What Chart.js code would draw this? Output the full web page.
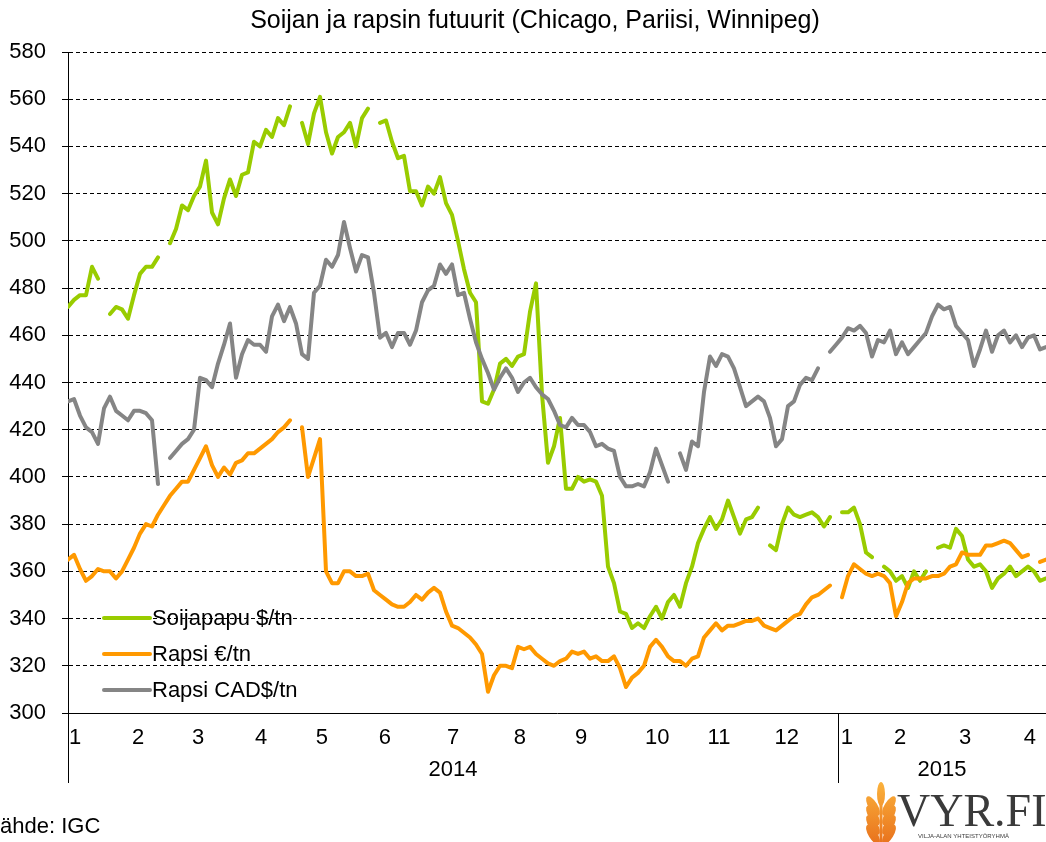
<!DOCTYPE html>
<html>
<head>
<meta charset="utf-8">
<title>Soijan ja rapsin futuurit</title>
<script src="https://cdn.jsdelivr.net/npm/chart.js@4.4.1/dist/chart.umd.min.js"></script>
<style>
  body { margin: 0; background: #fff; }
  canvas { display: block; }
</style>
</head>
<body>
<canvas id="chart" width="1046" height="842"></canvas>
<script>
// Sampled futures prices, Jan 2014 - Apr 2015 (one value every ~2 trading days, null = no quote)
const soija = [
  472, 475, 477, 477, 489, 484, null, 469, 472, 471,
  467, 477, 486, 489, 489, 493, null, 499, 505, 515,
  513, 519, 523, 534, 512, 507, 518, 526, 519, 528,
  529, 542, 540, 547, 544, 552, 549, 557, null, 550,
  541, 554, 561, 546, 537, 544, 546, 550, 540, 552,
  556, null, 550, 551, 542, 535, 536, 521, 521, 515,
  523, 520, 527, 516, 511, 500, 488, 478, 474, 432,
  431, 437, 448, 450, 447, 451, 452, 470, 482, 435,
  406, 413, 425, 395, 395, 400, 398, 399, 398, 392,
  362, 355, 343, 342, 336, 338, 336, 341, 345, 340,
  347, 350, 345, 355, 362, 372, 378, 383, 378, 382,
  390, 383, 376, 382, 383, 387, null, 371, 369, 380,
  387, 384, 383, 384, 385, 383, 379, 383, null, 385,
  385, 387, 380, 368, 366, null, 362, 360, 356, 358,
  353, 360, 356, 360, null, 370, 371, 370, 378, 375,
  365, 362, 363, 360, 353, 357, 359, 362, 358, 360,
  362, 360, 356, 357
];

const rapsiEur = [
  365, 367, 361, 356, 358, 361, 360, 360, 357, 360,
  365, 370, 376, 380, 379, 384, 388, 392, 395, 398,
  398, 403, 408, 413, 405, 400, 404, 401, 406, 407,
  410, 410, 412, 414, 416, 419, 421, 424, null, 421,
  400, 408, 416, 360, 355, 355, 360, 360, 358, 358,
  359, 352, 350, 348, 346, 345, 345, 347, 350, 348,
  351, 353, 351, 343, 337, 336, 334, 332, 329, 325,
  309, 316, 320, 320, 319, 328, 327, 328, 325, 323,
  321, 320, 322, 323, 326, 325, 326, 323, 324, 322,
  322, 324, 319, 311, 315, 317, 320, 328, 331, 328,
  324, 322, 322, 320, 323, 324, 332, 335, 338, 335,
  337, 337, 338, 339, 339, 340, 337, 336, 335, 337,
  339, 341, 342, 346, 349, 350, 352, 354, null, 349,
  358, 363, 361, 359, 358, 359, 358, 355, 341, 347,
  355, 357, 357, 357, 358, 358, 359, 362, 363, 368,
  367, 367, 367, 371, 371, 372, 373, 372, 369, 366,
  367, null, 364, 365
];

const rapsiCad = [
  432, 433, 426, 421, 419, 414, 429, 434, 428, 426,
  424, 428, 428, 427, 424, 397, null, 408, 411, 414,
  416, 420, 442, 441, 438, 448, 456, 465, 442, 452,
  458, 456, 456, 453, 468, 473, 466, 472, 465, 452,
  450, 478, 481, 492, 489, 494, 508, 497, 487, 494,
  493, 478, 459, 461, 455, 461, 461, 456, 462, 474,
  479, 481, 490, 486, 490, 477, 478, 467, 457, 450,
  444, 437, 442, 446, 442, 436, 440, 442, 438, 435,
  433, 428, 422, 421, 425, 422, 422, 419, 413, 414,
  412, 411, 400, 396, 396, 397, 396, 402, 412, 405,
  398, null, 410, 403, 415, 413, 436, 451, 447, 452,
  451, 446, 438, 430, 432, 434, 432, 425, 413, 416,
  430, 432, 439, 442, 441, 446, null, 453, 456, 459,
  463, 462, 464, 461, 451, 458, 457, 462, 452, 457,
  452, 455, 458, 461, 468, 473, 471, 472, 464, 461,
  458, 447, 454, 462, 453, 460, 462, 457, 460, 455,
  459, 460, 454, 455
];

// x axis: month labels (position in sample index) and years
const monthTicks = [1.2, 11.7, 21.7, 32.2, 42.3, 52.8, 64.2, 75.3, 85.5, 98.2, 108.5, 119.8, 129.8, 138.7, 149.5, 160.3];
const monthLabels = ["1", "2", "3", "4", "5", "6", "7", "8", "9", "10", "11", "12", "1", "2", "3", "4"];
const years = ["2014", "2015"];
const yearStarts = [0, 128.3];

const seriesNames = ["Soijapapu $/tn", "Rapsi €/tn", "Rapsi CAD$/tn"];
const seriesColors = ["#99cc00", "#ff9900", "#858585"];

const FONT = "'Liberation Sans', Arial, sans-serif";
const toPoints = (arr) => arr.map((v, i) => ({ x: i, y: v }));

const extras = {
  id: "extras",
  afterDraw(chart) {
    const { ctx, chartArea, scales } = chart;
    const x = scales.x;
    ctx.save();

    // title
    ctx.fillStyle = "#000";
    ctx.font = "25px " + FONT;
    ctx.textAlign = "center";
    ctx.textBaseline = "middle";
    ctx.fillText("Soijan ja rapsin futuurit (Chicago, Pariisi, Winnipeg)", 535, 21);

    // year separators + labels
    ctx.strokeStyle = "#000";
    ctx.lineWidth = 1;
    const lineEnd = 783;
    yearStarts.forEach((v) => {
      const px = Math.round(x.getPixelForValue(v)) + 0.5;
      ctx.beginPath();
      ctx.moveTo(px, chartArea.bottom);
      ctx.lineTo(px, lineEnd);
      ctx.stroke();
    });
    ctx.font = "22px " + FONT;
    years.forEach((y, i) => {
      const a = x.getPixelForValue(yearStarts[i]);
      const b = i + 1 < yearStarts.length ? x.getPixelForValue(yearStarts[i + 1]) : chartArea.right;
      ctx.fillText(y, (a + b) / 2, 770);
    });

    // legend inside plot
    ctx.textAlign = "left";
    const rows = [618, 654, 690];
    seriesNames.forEach((name, i) => {
      ctx.strokeStyle = seriesColors[i];
      ctx.lineWidth = 4;
      ctx.lineCap = "round";
      ctx.beginPath();
      ctx.moveTo(104, rows[i]);
      ctx.lineTo(150, rows[i]);
      ctx.stroke();
      ctx.fillStyle = "#000";
      ctx.fillText(name, 152, rows[i] + 1);
    });

    // source
    ctx.fillText("ähde: IGC", 0, 827);

    // logo: wheat ear
    const grad = ctx.createLinearGradient(0, 782, 0, 842);
    grad.addColorStop(0, "#fbb23c");
    grad.addColorStop(1, "#e9741e");
    ctx.fillStyle = grad;
    const cx = 881;
    ctx.beginPath();
    ctx.ellipse(cx, 794, 4, 12, 0, 0, Math.PI * 2);
    ctx.fill();
    for (let k = 0; k < 4; k++) {
      const gy = 806 + k * 9.5;
      ctx.beginPath();
      ctx.ellipse(cx - 8, gy, 4.5, 11, -0.55, 0, Math.PI * 2);
      ctx.fill();
      ctx.beginPath();
      ctx.ellipse(cx + 8, gy, 4.5, 11, 0.55, 0, Math.PI * 2);
      ctx.fill();
    }
    ctx.fillRect(cx - 1.5, 800, 3, 42);

    // logo text
    ctx.fillStyle = "#3a3a3a";
    ctx.font = "46px 'Liberation Serif', 'Times New Roman', serif";
    ctx.textBaseline = "alphabetic";
    ctx.fillText("VYR.FI", 897, 826);
    ctx.font = "6px " + FONT;
    ctx.fillText("VILJA-ALAN YHTEISTYÖRYHMÄ", 918, 838);

    ctx.restore();
  }
};

new Chart(document.getElementById("chart"), {
  type: "line",
  data: {
    datasets: [
      { label: seriesNames[0], data: toPoints(soija), borderColor: seriesColors[0], order: 3 },
      { label: seriesNames[1], data: toPoints(rapsiEur), borderColor: seriesColors[1], order: 2 },
      { label: seriesNames[2], data: toPoints(rapsiCad), borderColor: seriesColors[2], order: 1 }
    ]
  },
  options: {
    responsive: false,
    animation: false,
    devicePixelRatio: 1,
    spanGaps: false,
    layout: { padding: { top: 52, right: 0, left: 0, bottom: 0 } },
    elements: {
      line: { borderWidth: 4, tension: 0, borderCapStyle: "round", borderJoinStyle: "round" },
      point: { radius: 0 }
    },
    plugins: {
      legend: { display: false },
      tooltip: { enabled: false }
    },
    scales: {
      x: {
        type: "linear",
        min: 0,
        max: soija.length - 1,
        afterBuildTicks: (scale) => { scale.ticks = monthTicks.map((v) => ({ value: v })); },
        afterFit: (scale) => { scale.height = 129; },
        grid: { display: false },
        border: { display: true, color: "#000", width: 1 },
        ticks: {
          autoSkip: false,
          maxRotation: 0,
          padding: 4,
          color: "#000",
          font: { family: FONT, size: 22 },
          callback: (value, index) => monthLabels[index]
        }
      },
      y: {
        min: 300,
        max: 580,
        afterFit: (scale) => { scale.width = 68; },
        grid: { color: "#000", lineWidth: 1, tickLength: 6, tickColor: "#000" },
        border: { display: true, color: "#000", width: 1, dash: [4, 3] },
        ticks: {
          stepSize: 20,
          padding: 16,
          color: "#000",
          font: { family: FONT, size: 22 }
        }
      }
    }
  },
  plugins: [extras]
});
</script>
</body>
</html>
